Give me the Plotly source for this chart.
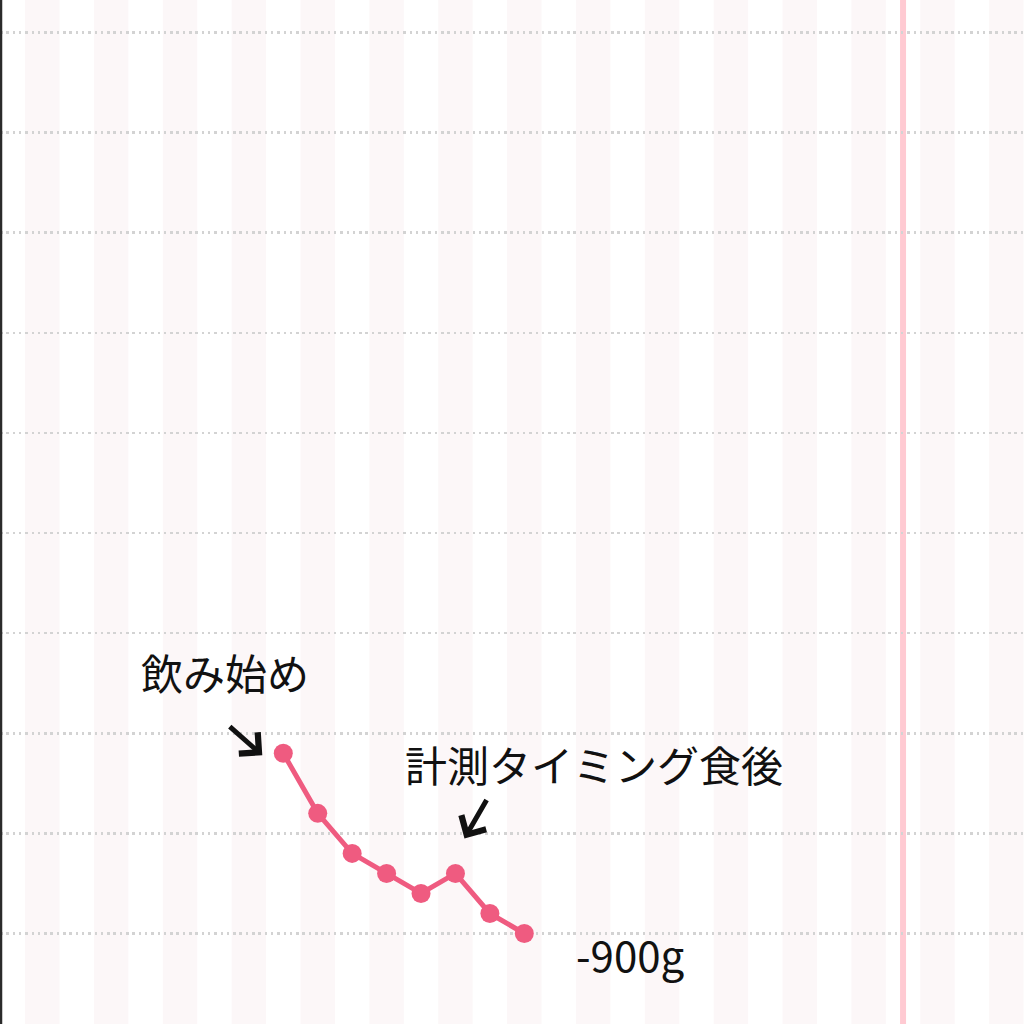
import plotly.graph_objects as go

# ---- data ----
days = [0, 1, 2, 3, 4, 5, 6, 7]
weights = [55.9, 55.6, 55.4, 55.3, 55.2, 55.3, 55.1, 55.0]
today = 18
start_label = "飲み始め"
note_label = "計測タイミング食後"
total_label = "-900g"

x_range = [-8.228, 21.513]
y_range = [54.548, 59.662]

LINE = "#ef5b80"
STRIPE = "#fcf7f8"
FONT = "Noto Sans CJK JP"

fig = go.Figure()
fig.add_trace(go.Scatter(
    x=days, y=weights, mode="lines+markers",
    line=dict(color=LINE, width=5),
    marker=dict(color=LINE, size=19),
    hoverinfo="skip", showlegend=False,
))

shapes = []
# alternating day-column stripes
for d in range(int(x_range[0]) - 1, int(x_range[1]) + 2):
    if d % 2 != 0:
        shapes.append(dict(type="rect", xref="x", yref="paper",
                           x0=d - 0.5, x1=d + 0.5, y0=0, y1=1,
                           fillcolor=STRIPE, line=dict(width=0), layer="below"))
# today marker
shapes.append(dict(type="line", xref="x", yref="paper", x0=today, x1=today,
                   y0=0, y1=1, line=dict(color="#ffcad2", width=6), layer="between"))
# left frame edge
shapes.append(dict(type="rect", xref="paper", yref="paper", x0=0, x1=0.0022,
                   y0=0, y1=1, fillcolor="#2b2b2b", line=dict(width=0), layer="above"))

annotations = [
    dict(x=days[0], y=weights[0], xref="x", yref="y", text=start_label,
         showarrow=False, xshift=-58, yshift=82,
         font=dict(family=FONT, size=42, color="#111111")),
    dict(x=days[0], y=weights[0], xref="x", yref="y", text="",
         showarrow=True, xshift=-21, yshift=-2, ax=-34, ay=-30,
         arrowhead=4, arrowwidth=5, arrowsize=1.1, arrowcolor="#111111"),
    dict(x=days[5], y=weights[5], xref="x", yref="y", text=note_label,
         showarrow=False, xshift=139, yshift=110,
         font=dict(family=FONT, size=42, color="#111111")),
    dict(x=days[5], y=weights[5], xref="x", yref="y", text="",
         showarrow=True, xshift=9, yshift=35, ax=23, ay=-40,
         arrowhead=4, arrowwidth=5, arrowsize=1.1, arrowcolor="#111111"),
    dict(x=days[-1], y=weights[-1], xref="x", yref="y", text=total_label,
         showarrow=False, xanchor="left", xshift=50, yshift=-20,
         font=dict(family=FONT, size=42, color="#111111")),
]

fig.update_layout(
    width=1024, height=1024, autosize=False,
    margin=dict(l=0, r=0, t=0, b=0),
    paper_bgcolor="white", plot_bgcolor="white",
    shapes=shapes, annotations=annotations,
    xaxis=dict(range=x_range, showgrid=False, zeroline=False,
               showticklabels=False, ticks="", fixedrange=True),
    yaxis=dict(range=y_range, tick0=55, dtick=0.5, showgrid=True,
               gridcolor="#d3d3d3", gridwidth=2.5, griddash="2.5px,3.8px",
               zeroline=False, showticklabels=False, ticks="", fixedrange=True),
)

fig.write_html("out.html", config={"displayModeBar": False, "staticPlot": True},
               post_script="document.body.style.margin='0';document.body.style.padding='0';")
